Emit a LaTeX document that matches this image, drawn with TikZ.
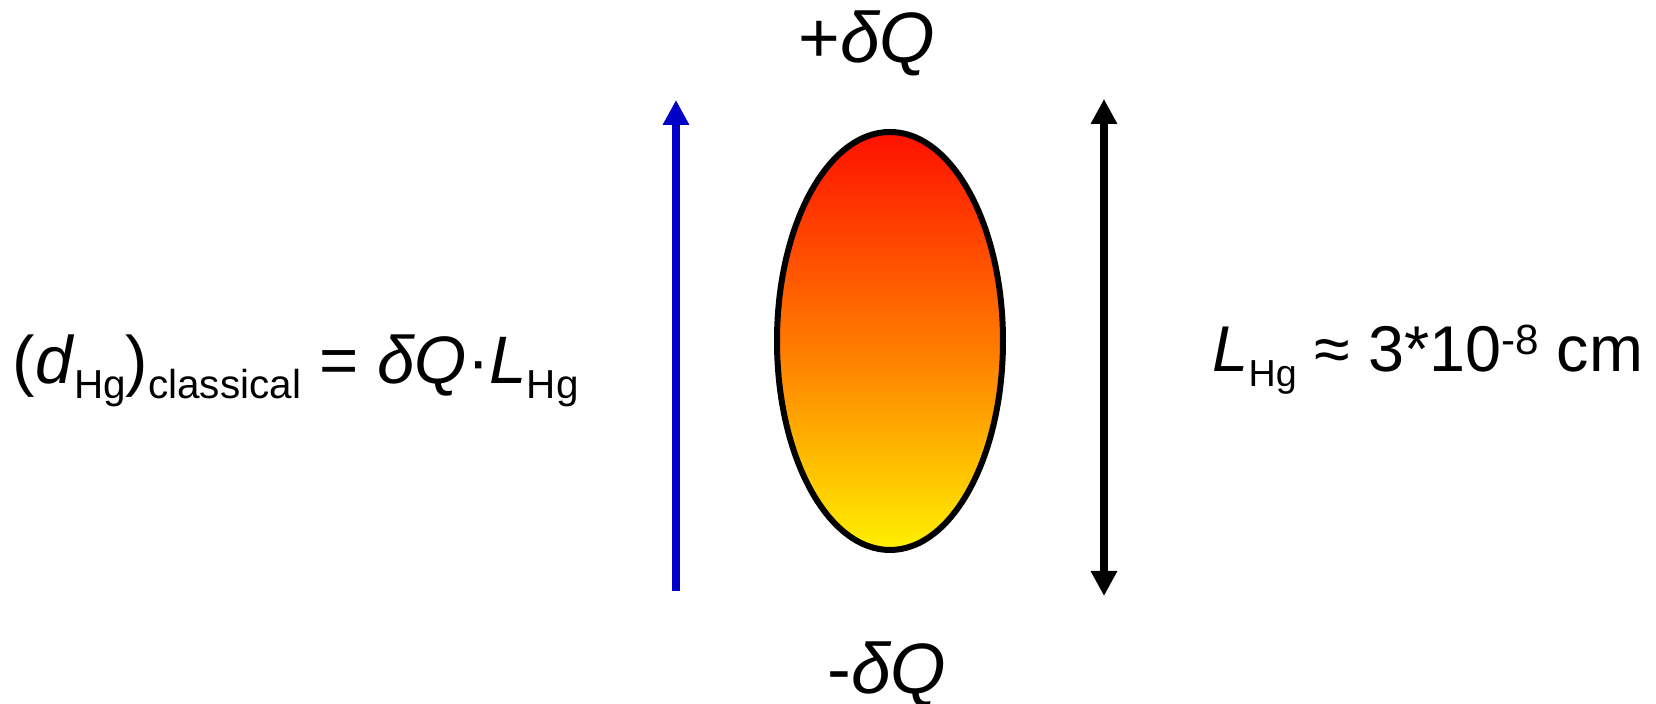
\documentclass[tikz,border=0pt]{standalone}
\usepackage{fontspec}
\setmainfont{Liberation Sans}
\usetikzlibrary{arrows.meta, positioning}
\definecolor{dipoleblue}{RGB}{0,0,200}
\definecolor{droptop}{RGB}{255,16,0}
\definecolor{dropmid}{RGB}{255,120,0}
\definecolor{dropbot}{RGB}{255,240,0}
\newcommand{\hgsub}[2][10.7]{\raisebox{-0.15cm}{\fontsize{#1}{12}\selectfont #2}}
\newcommand{\hgsup}[1]{\raisebox{0.17cm}{\fontsize{12}{13}\selectfont #1}}

\begin{document}
\begin{tikzpicture}[x=0.01cm,y=0.01cm,
    lbl/.style={inner sep=0pt,font=\fontsize{18.4}{22}\selectfont},
    bigl/.style={lbl,font=\fontsize{20.3}{24}\selectfont},
    tip/.tip={Triangle[width=0.25cm,length=0.25cm]},
    arr/.style={line width=0.08cm}]
    \useasboundingbox (0,0) rectangle (1656,704);
    % charge drop
    \draw[line width=0.06cm,top color=droptop,bottom color=dropbot,middle color=dropmid]
      (890,363) ellipse [x radius=113,y radius=209];
    \coordinate (blueBot) at (676,113);
    \coordinate (blueTop) at (676,604);
    \coordinate (lenTop) at (1104,605);
    \coordinate (lenBot) at (1104,108);
    \draw[arr,-tip,dipoleblue] (blueBot) -- (blueTop);
    \draw[arr,tip-tip,black] (lenBot) -- (lenTop);
    % labels
    \node[bigl,anchor=base] (plusq) at (867,641) {+\textit{δQ}};
    \node[bigl,anchor=base] (minusq) at (887,10) {-\textit{δQ}};
    \node[lbl,anchor=base west,font=\fontsize{19.1}{22}\selectfont] (dipole) at (12,320)
      {(\textit{d}\hgsub[11.5]{Hg})\hgsub[11.5]{classical} = \textit{δQ}·\textit{L}\hgsub[11.5]{Hg}};
    \node[lbl,anchor=base west] (length) at (1212,332)
      {\textit{L}\hgsub{Hg} ≈ 3*10\hgsup{-8} cm};
\end{tikzpicture}
\end{document}
